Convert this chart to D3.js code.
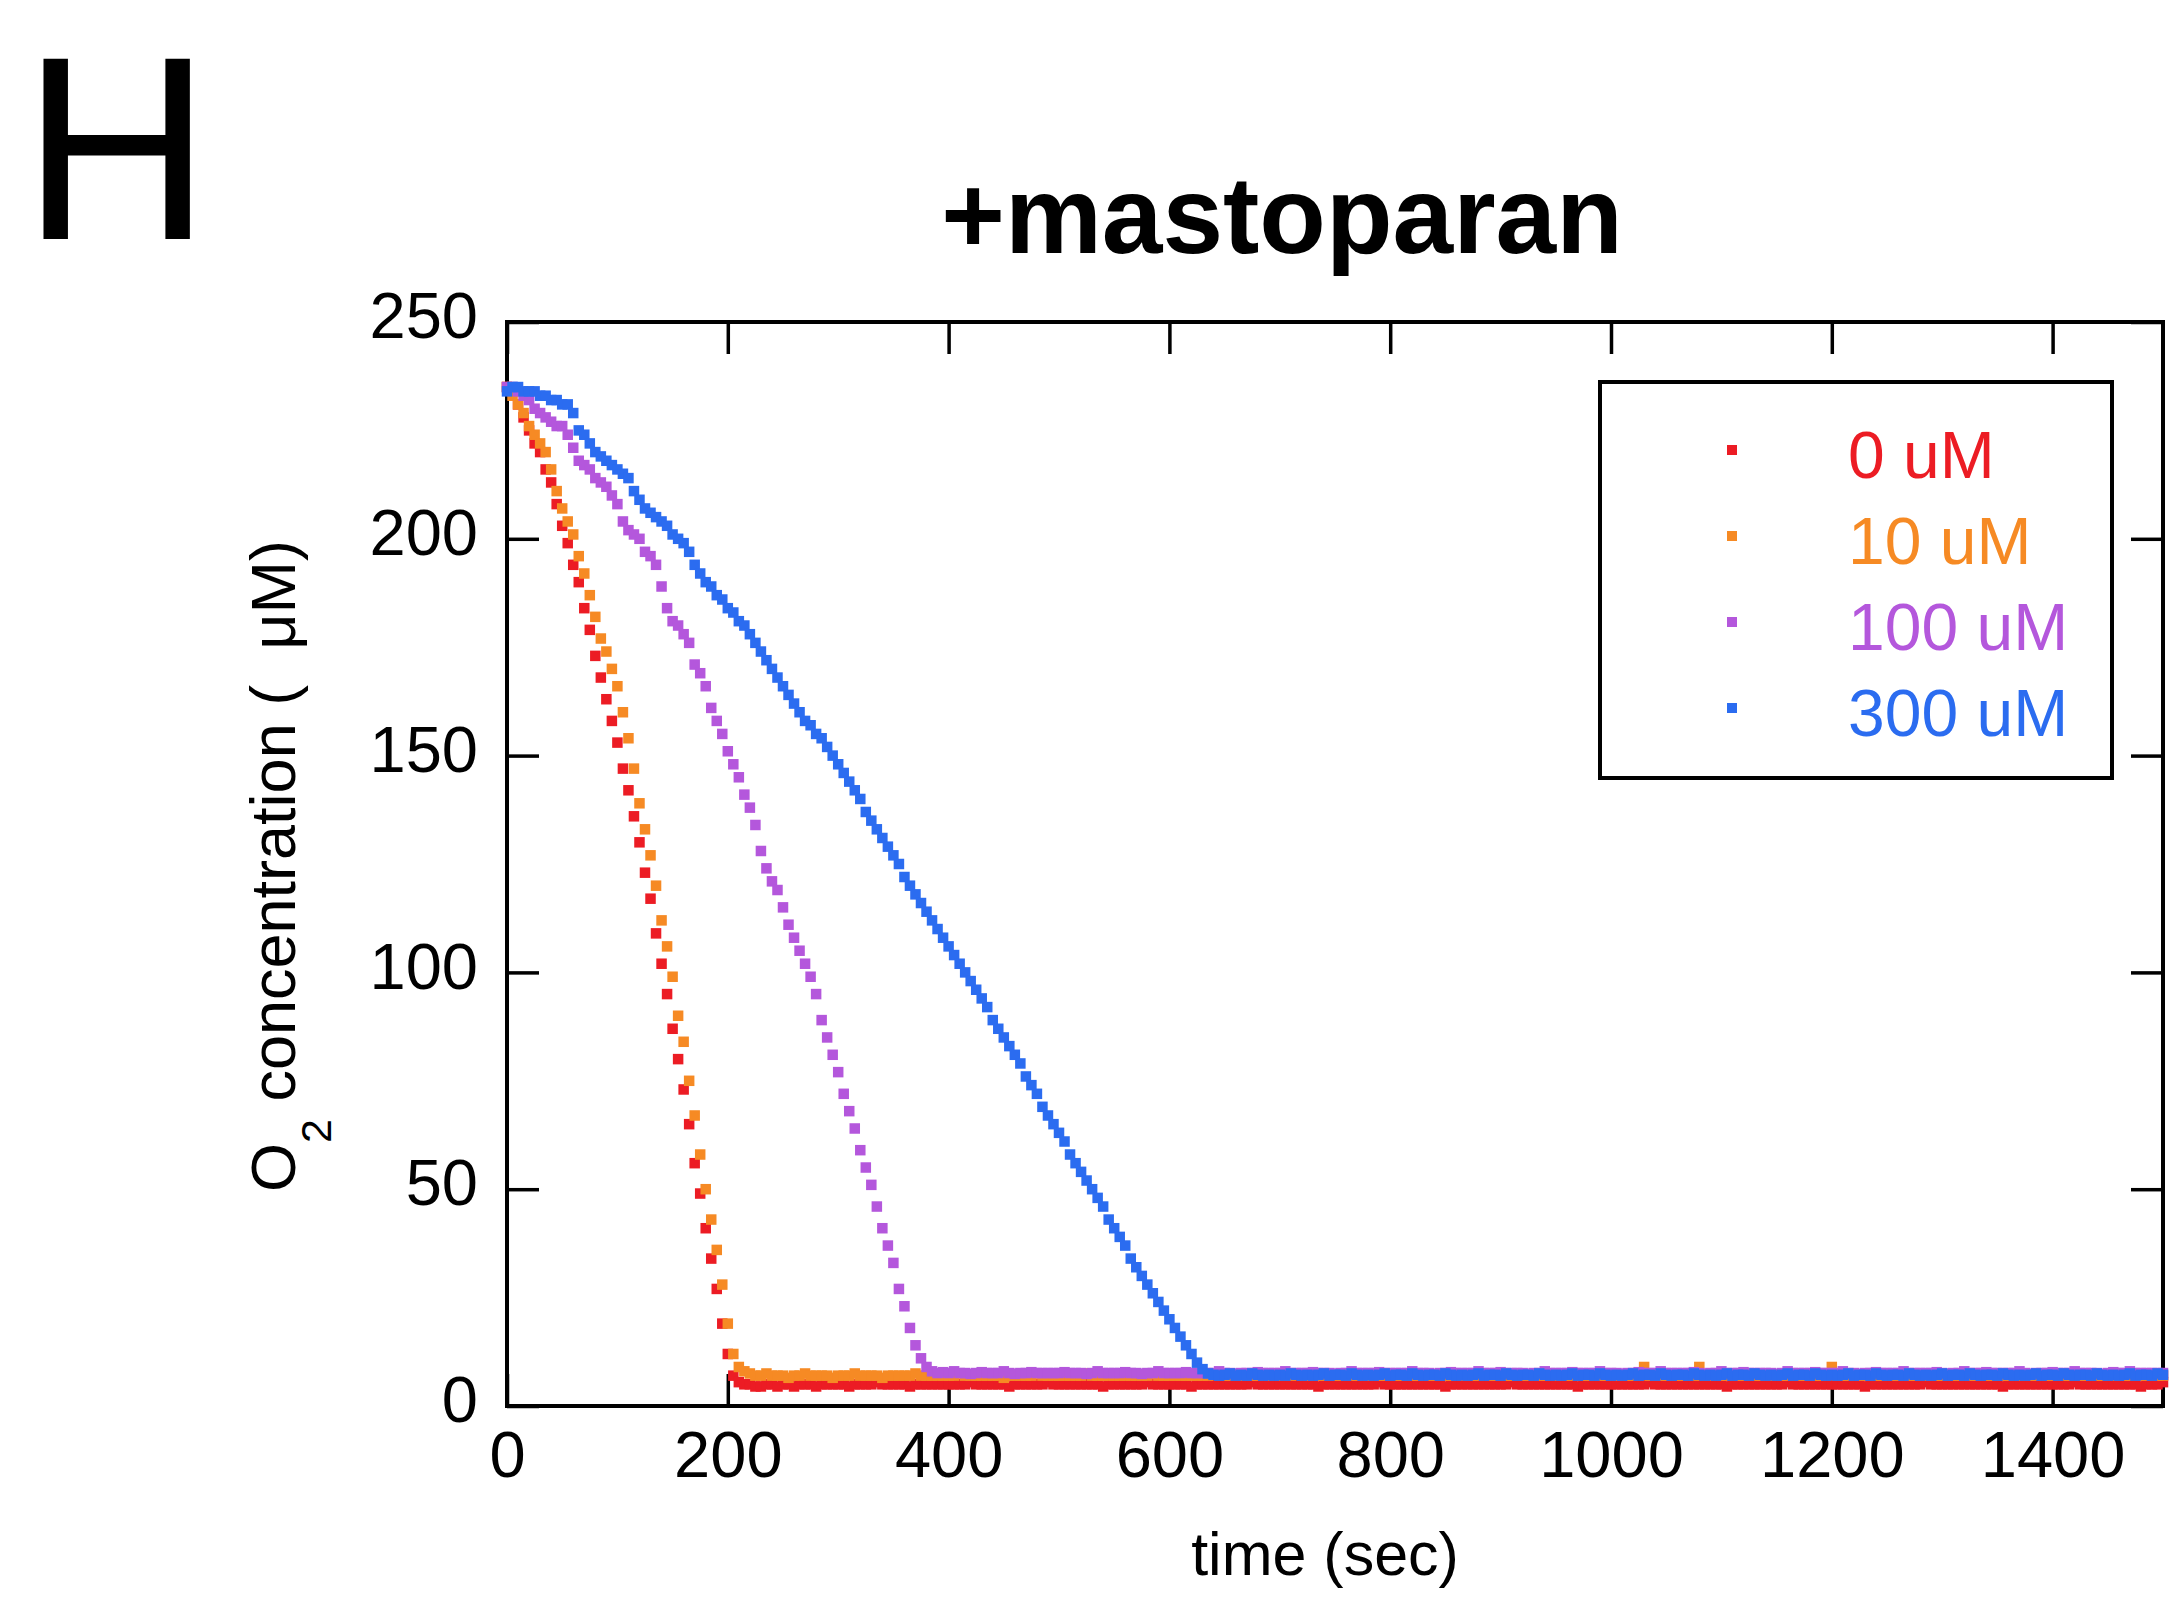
<!DOCTYPE html>
<html>
<head>
<meta charset="utf-8">
<script src="https://cdn.jsdelivr.net/npm/d3@7"></script>
<style>
  body { margin: 0; background: #fff; }
  svg text { font-family: "Liberation Sans", Arial, Helvetica, sans-serif; }
</style>
</head>
<body>
<div id="chart"></div>
<script>
// sample times (sec), one reading every 5 s
const times = [
  0,5,10,15,20,25,30,35,40,45,50,55,60,65,70,75,80,85,90,95,
  100,105,110,115,120,125,130,135,140,145,150,155,160,165,170,175,180,185,190,195,
  200,205,210,215,220,225,230,235,240,245,250,255,260,265,270,275,280,285,290,295,
  300,305,310,315,320,325,330,335,340,345,350,355,360,365,370,375,380,385,390,395,
  400,405,410,415,420,425,430,435,440,445,450,455,460,465,470,475,480,485,490,495,
  500,505,510,515,520,525,530,535,540,545,550,555,560,565,570,575,580,585,590,595,
  600,605,610,615,620,625,630,635,640,645,650,655,660,665,670,675,680,685,690,695,
  700,705,710,715,720,725,730,735,740,745,750,755,760,765,770,775,780,785,790,795,
  800,805,810,815,820,825,830,835,840,845,850,855,860,865,870,875,880,885,890,895,
  900,905,910,915,920,925,930,935,940,945,950,955,960,965,970,975,980,985,990,995,
  1000,1005,1010,1015,1020,1025,1030,1035,1040,1045,1050,1055,1060,1065,1070,1075,1080,1085,1090,1095,
  1100,1105,1110,1115,1120,1125,1130,1135,1140,1145,1150,1155,1160,1165,1170,1175,1180,1185,1190,1195,
  1200,1205,1210,1215,1220,1225,1230,1235,1240,1245,1250,1255,1260,1265,1270,1275,1280,1285,1290,1295,
  1300,1305,1310,1315,1320,1325,1330,1335,1340,1345,1350,1355,1360,1365,1370,1375,1380,1385,1390,1395,
  1400,1405,1410,1415,1420,1425,1430,1435,1440,1445,1450,1455,1460,1465,1470,1475,1480,1485,1490,1495,
  1500
];

// O2 concentration (uM)
const o2_0uM = [
  235,234,231,228,225,222,220,216,213,208,203,199,194,190,184,179,173,168,163,158,
  153,147,142,136,130,123,117,109,102,95,87,80,73,65,56,49,41,34,27,19,
  12,7,5.5,5,5,4.5,4.5,5,5,4.5,5,5,4.5,5,5,5,4.5,5,5,5,
  5,5,4.5,5,5,5,5,5.5,5,5,5,5,5,4.5,5,5,5,5,5,5,
  5,5,5,5,5.5,5,5,5,5,5,5,4.5,5,5,5,5,5,5,5.5,5,
  5,5,5,5,5,5,5,5,4.5,5,5,5,5,5,5,5,5.5,5,5,5,
  5,5,5,5,4.5,5,5,5,5,5,5,5,5,5,5,5.5,5,5,5,5,
  5,5,5,5,5,5,5,4.5,5,5,5,5,5,5,5,5,5,5,5.5,5,
  5,5,5,5,5,5,5,5,5,5,4.5,5,5,5,5,5,5,5,5,5,
  5,5,5.5,5,5,5,5,5,5,5,5,5,5,5,4.5,5,5,5,5,5,
  5,5,5,5,5,5,5,5.5,5,5,5,5,5,5,5,5,5,5,5,5,
  5,4.5,5,5,5,5,5,5,5,5,5,5,5.5,5,5,5,5,5,5,5,
  5,5,5,5,5,5,4.5,5,5,5,5,5,5,5,5,5,5,5.5,5,5,
  5,5,5,5,5,5,5,5,5,5,5,4.5,5,5,5,5,5,5,5,5,
  5,5,5,5,5.5,5,5,5,5,5,5,5,5,5,5,5,4.5,5,5,5,
  5.5
];
const o2_10uM = [
  235,233,231,229,226,224,222,220,216,211,207,204,201,196,192,187,182,177,174,170,
  166,160,154,147,139,133,127,120,112,106,99,90,84,75,67,58,50,43,36,28,
  19,12,9,8,7.5,7,7,7.5,7,7,7,6.5,7,7,7.5,7,7,7,7,6.5,
  7,7,7,7.5,7,7,7,7,6.5,7,7,7,7,7,7.5,7,7,7,7,7,
  7,7,7.5,7,7,7,7,7,7,7,6.5,7,7,7,7,7,7.5,7,7,7,
  7,7,7,7,7,7.5,7,7,7,7,7,7,7,7,7,7,7,7.5,7,7,
  7,7,7,7,7,7,7,7,7.5,7,7,7,7,7,7,7,7,7,7,7,
  7,7,7,7.5,7,7,7,7,7,7,7,7,7,7,7,7,7,7,7,7,
  7,7,7,7,7,7,7,7,7,7,7,7,7.5,7,7,7,7,7,7,7,
  7,7,7,7,7,7,7,7,7,7,7,7,7,7,7,7,7,7,7,7,
  7,7,7,7,7,7,9,7,7,7,7,7,7,7,7,7,9,7,7,7,
  7,7,7,7,7,7,7,7,7,7,7,7,7,7,7,7,7,7,7,7,
  9,7,7,7,7,7,7,7,7,7,7,7,7,7,7,7,7,7,7,7,
  7,7,7,7,7,7,7,7,7,7,7,7,7,7,7,7,7,7,7,7,
  7,7,7,7,7,7,7,7,7,7,7,7,7,7,7,7,7,7,7,7,
  7
];
const o2_100uM = [
  235,235,234,233,232,230,229,228,227,226,226,224,221,218,217,216,214,213,212,210,
  208,204,202,201,200,197,196,194,189,184,181,180,178,176,171,169,166,161,158,155,
  151,148,145,141,138,134,128,124,121,119,115,111,108,105,102,99,95,89,85,81,
  77,72,68,64,59,55,51,46,41,37,33,27,23,18,14,11,9,8,7.6,7.8,
  7.6,8,7.6,7.6,7.4,7.6,7.8,7.6,7.6,7.6,8,7.6,7.4,7.6,7.6,7.8,7.6,7.6,7.6,7.6,
  7.6,7.8,7.6,7.6,7.6,7.4,7.6,8,7.6,7.6,7.6,7.6,7.8,7.6,7.6,7.4,7.6,7.6,8,7.6,
  7.6,7.6,7.6,7.8,7.6,7.6,7.6,7.6,7.6,8,7.6,7.6,7.4,7.6,7.6,7.6,7.8,7.6,7.6,7.6,
  7.6,8,7.6,7.6,7.6,7.6,7.8,7.6,7.6,7.6,7.4,7.6,7.6,8,7.6,7.6,7.6,7.6,7.8,7.6,
  7.6,7.6,7.6,7.6,8,7.6,7.6,7.6,7.4,7.6,7.6,7.8,7.6,7.6,7.6,7.6,8,7.6,7.6,7.6,
  7.8,7.6,7.6,7.6,7.6,7.4,7.6,7.6,8,7.6,7.6,7.6,7.6,7.8,7.6,7.6,7.6,7.6,8,7.6,
  7.6,7.6,7.4,7.6,7.6,7.8,7.6,7.6,7.6,8,7.6,7.6,7.6,7.6,7.6,7.8,7.6,7.4,7.6,7.6,
  8,7.6,7.6,7.6,7.8,7.6,7.6,7.6,7.6,7.6,7.4,7.6,8,7.6,7.6,7.6,7.6,7.8,7.6,7.6,
  7.6,7.6,8,7.6,7.6,7.4,7.6,7.6,7.8,7.6,7.6,7.6,7.6,8,7.6,7.6,7.6,7.6,7.6,7.8,
  7.6,7.4,7.6,7.6,8,7.6,7.6,7.6,7.8,7.6,7.6,7.6,7.6,7.6,8,7.6,7.4,7.6,7.6,7.6,
  7.8,7.6,7.6,7.6,8,7.6,7.6,7.6,7.6,7.4,7.6,7.8,7.6,7.6,8,7.6,7.6,7.6,7.6,7.6,
  7.6
];
const o2_300uM = [
  234,235,235,234,234,234,233,233,232,232,231,231,229,225,224,222,220,219,218,217,
  216,215,214,211,209,207,206,205,204,203,201,200,199,197,194,192,190,189,187,186,
  184,183,181,180,178,176,174,172,170,168,166,164,162,160,158,157,155,154,152,150,
  148,146,144,142,140,137,135,133,131,129,127,125,122,120,118,116,114,112,110,108,
  106,104,102,100,98,96,94,92,89,87,85,83,81,79,76,74,72,69,67,65,
  63,61,58,56,54,52,50,48,46,43,41,39,37,34,32,30,28,26,24,22,
  20,18,16,14,12,10,8.5,7.5,7.2,7,7.2,7.5,7,7.2,7,7.5,7.2,7,7.2,7,
  7.2,7,7.5,7.2,7,7.2,7,7.2,7.5,7,7.2,7.2,7,7.5,7.2,7,7.2,7,7.2,7.5,
  7,7.2,7.2,7,7.5,7.2,7,7.2,7.2,7,7.5,7.2,7,7.2,7,7.2,7.5,7,7.2,7.2,
  7,7.5,7.2,7,7.2,7.2,7,7.5,7.2,7,7.2,7,7.2,7.5,7,7.2,7.2,7,7.5,7.2,
  7,7.2,7,7.2,7.5,7,7.2,7.2,7,7.5,7.2,7,7.2,7.2,7,7.5,7.2,7,7.2,7,
  7.2,7.5,7,7.2,7.2,7,7.5,7.2,7,7.2,7,7.2,7.5,7,7.2,7.2,7,7.5,7.2,7,
  7.2,7,7.2,7.5,7,7.2,7.2,7,7.5,7.2,7,7.2,7.2,7,7.5,7.2,7,7.2,7,7.2,
  7.5,7,7.2,7.2,7,7.5,7.2,7,7.2,7.2,7,7.5,7.2,7,7.2,7,7.2,7.5,7,7.2,
  7.2,7,7.5,7.2,7,7.2,7.2,7,7.5,7.2,7,7.2,7,7.2,7.5,7,7.2,7.2,7,7.5,
  7.2
];

const seriesNames = ["0 uM", "10 uM", "100 uM", "300 uM"];
const seriesValues = [o2_0uM, o2_10uM, o2_100uM, o2_300uM];
const seriesColors = ["#ec1c24", "#f68a24", "#b457dc", "#2b6cf0"];

const xTicks = [0, 200, 400, 600, 800, 1000, 1200, 1400];
const yTicks = [0, 50, 100, 150, 200, 250];

var margin = {top: 322, right: 8, bottom: 192, left: 507},
    width = 2171 - margin.left - margin.right,
    height = 1598 - margin.top - margin.bottom;

const svg = d3.select("#chart")
  .append("svg")
    .attr("width", 2171)
    .attr("height", 1598)
    .style("background", "#fff");

const g = svg.append("g")
    .attr("transform", `translate(${margin.left},${margin.top})`);

const x = d3.scaleLinear().domain([0, 1500]).range([0, width]);
const y = d3.scaleLinear().domain([0, 250]).range([height, 0]);

const tickLen = 32;

function styleAxis(sel, size) {
  sel.select(".domain").remove();
  sel.selectAll(".tick line").attr("stroke", "#000").attr("stroke-width", 3.5);
  sel.selectAll(".tick text")
    .attr("fill", "#000")
    .attr("font-size", size)
    .attr("font-family", "Liberation Sans, Arial, sans-serif");
}

// bottom axis, ticks pointing in
g.append("g")
    .attr("transform", `translate(0, ${height})`)
    .call(d3.axisBottom(x).tickValues(xTicks).tickFormat(d3.format("d"))
      .tickSize(-tickLen).tickSizeOuter(0).tickPadding(25))
    .call(styleAxis, 65);

// top axis, no labels
g.append("g")
    .call(d3.axisTop(x).tickValues(xTicks).tickSize(-tickLen).tickSizeOuter(0).tickFormat(""))
    .call(styleAxis, 65);

// left axis
g.append("g")
    .call(d3.axisLeft(y).tickValues(yTicks).tickSize(-tickLen).tickSizeOuter(0).tickPadding(29))
    .call(styleAxis, 65)
    .selectAll(".tick text").attr("dy", "0.24em");

// right axis, no labels
g.append("g")
    .attr("transform", `translate(${width}, 0)`)
    .call(d3.axisRight(y).tickValues(yTicks).tickSize(-tickLen).tickSizeOuter(0).tickFormat(""))
    .call(styleAxis, 65);

// frame
g.append("rect")
    .attr("width", width)
    .attr("height", height)
    .attr("fill", "none")
    .attr("stroke", "#000")
    .attr("stroke-width", 4);

// data points, small squares
const dot = 10.5;
seriesValues.forEach(function(vals, i) {
  const pts = times.map((t, j) => ({t: t, v: vals[j]}));
  g.append("g")
    .selectAll("rect")
    .data(pts)
    .join("rect")
      .attr("x", d => x(d.t) - dot / 2)
      .attr("y", d => y(d.v) - dot / 2)
      .attr("width", dot)
      .attr("height", dot)
      .attr("fill", seriesColors[i]);
});

// legend
const legend = svg.append("g");
legend.append("rect")
    .attr("x", 1600)
    .attr("y", 382)
    .attr("width", 512)
    .attr("height", 396)
    .attr("fill", "#fff")
    .attr("stroke", "#000")
    .attr("stroke-width", 4);

legend.selectAll("rect.key")
  .data(seriesNames)
  .join("rect")
    .attr("class", "key")
    .attr("x", 1727)
    .attr("y", (d, i) => 445 + i * 86)
    .attr("width", 10)
    .attr("height", 10)
    .attr("fill", (d, i) => seriesColors[i]);

legend.selectAll("text")
  .data(seriesNames)
  .join("text")
    .attr("x", 1848)
    .attr("y", (d, i) => 478 + i * 86)
    .attr("font-size", 66)
    .attr("fill", (d, i) => seriesColors[i])
    .text(d => d);

// panel letter and title
svg.append("text")
    .attr("x", 22)
    .attr("y", 239)
    .attr("font-size", 262)
    .attr("fill", "#000")
    .text("H");

svg.append("text")
    .attr("x", 1282)
    .attr("y", 253)
    .attr("text-anchor", "middle")
    .attr("font-size", 109)
    .attr("font-weight", "bold")
    .attr("fill", "#000")
    .text("+mastoparan");

// axis titles
svg.append("text")
    .attr("x", 1325)
    .attr("y", 1575)
    .attr("text-anchor", "middle")
    .attr("font-size", 61)
    .attr("fill", "#000")
    .text("time (sec)");

const ylab = svg.append("text")
    .attr("transform", "translate(295, 1192) rotate(-90)")
    .attr("font-size", 63)
    .attr("fill", "#000")
    .style("white-space", "pre");
ylab.append("tspan").text("O");
ylab.append("tspan").attr("font-size", 43).attr("dy", 36).text("2");
ylab.append("tspan").attr("dy", -36).text(" concentration (  \u03bcM)");
</script>
</body>
</html>
